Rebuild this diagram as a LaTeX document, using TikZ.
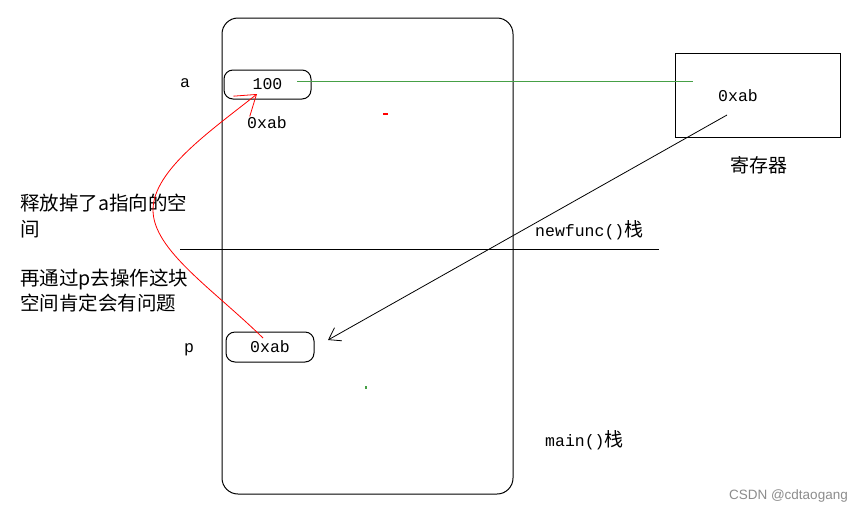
\documentclass[tikz,border=0pt]{standalone}
\usepackage{fontspec}
\setmainfont{Liberation Mono}
\newfontfamily\cjk{Noto Sans CJK SC}
\newfontfamily\credfont{Liberation Sans}
\usetikzlibrary{arrows.meta}
\definecolor{linkgreen}{RGB}{70,160,70}
\definecolor{credgray}{RGB}{140,140,140}

\begin{document}
\begin{tikzpicture}[x=1pt, y=-1pt,
  font=\fontsize{16.5}{18}\selectfont,
  frame/.style={draw, line width=1pt, inner sep=0pt},
  box/.style={frame, rounded corners=9pt, minimum width=#1, minimum height=30pt},
  box/.default=88pt,
  lab/.style={inner sep=0pt},
  note/.style={inner sep=0pt, anchor=west, align=left,
               font=\cjk\fontsize{19.5}{25.5}\selectfont},
  arr/.style={-{Straight Barb[length=11pt, width=15pt]}, line width=0.8pt},
  backarr/.style={-{Straight Barb[length=19pt, width=26pt]}, red, line width=0.8pt}]
\useasboundingbox (0,0) rectangle (856,512);
% stack frame and the two slots
\node[frame, rounded corners=16pt, minimum width=291pt, minimum height=476pt] (stack) at (367.5,256) {};
\node[box=87pt, minimum height=29pt, text width=80pt, align=center] (abox) at (267.5,84.5) {100\hspace*{7pt}};
\node[box] (pbox) at (270,347) {0xab};
\node[frame, minimum width=165pt, minimum height=84pt] (reg) at (757.5,95) {};
% labels
\node[lab] (alab) at (185,83) {a};
\node[lab] (aaddr) at (267,123) {0xab};
\node[lab, anchor=base] (plab) at (189,352) {p};
\node[lab] (regval) at (738,96) {0xab};
\node[lab, font=\cjk\fontsize{19}{19}\selectfont] (regname) at (759,165) {寄存器};
\node[lab, anchor=west] (newf) at (535,230) {newfunc(){\cjk\fontsize{19}{19}\selectfont 栈}};
\node[lab, anchor=west] (mainf) at (545,440) {main(){\cjk\fontsize{19}{19}\selectfont 栈}};
\node[note] (freed) at (20,216) {释放掉了a指向的空\\间};
\node[note] (warn) at (20,290.5) {再通过p去操作这块\\空间肯定会有问题};
\node[lab, anchor=east, font=\credfont\fontsize{13.5}{13.5}\selectfont, text=credgray] (credit) at (848,496) {CSDN @cdtaogang};
% frame divider
\coordinate (divl) at (180,249);
\coordinate (divr) at (659,249);
\draw[line width=1pt] (divl) -- (divr);
% connectors
\coordinate (afrom) at (297,81);
\coordinate (rto) at (693,81);
\draw[linkgreen, line width=0.8pt] (afrom) -- (rto);
\coordinate (rfrom) at (727,115);
\coordinate (pto) at (328,340);
\draw[arr] (rfrom) -- (pto);
\coordinate (pfrom) at (263,338);
\coordinate (ato) at (257,94);
\draw[backarr] (pfrom) .. controls (213,289) and (153,250) .. (153,210)
  .. controls (153,170) and (212,130) .. (ato);
% stray marks
\fill[red] (383,113) rectangle (388,115);
\fill[linkgreen] (365,386) rectangle (366.5,389);
\end{tikzpicture}
\end{document}
